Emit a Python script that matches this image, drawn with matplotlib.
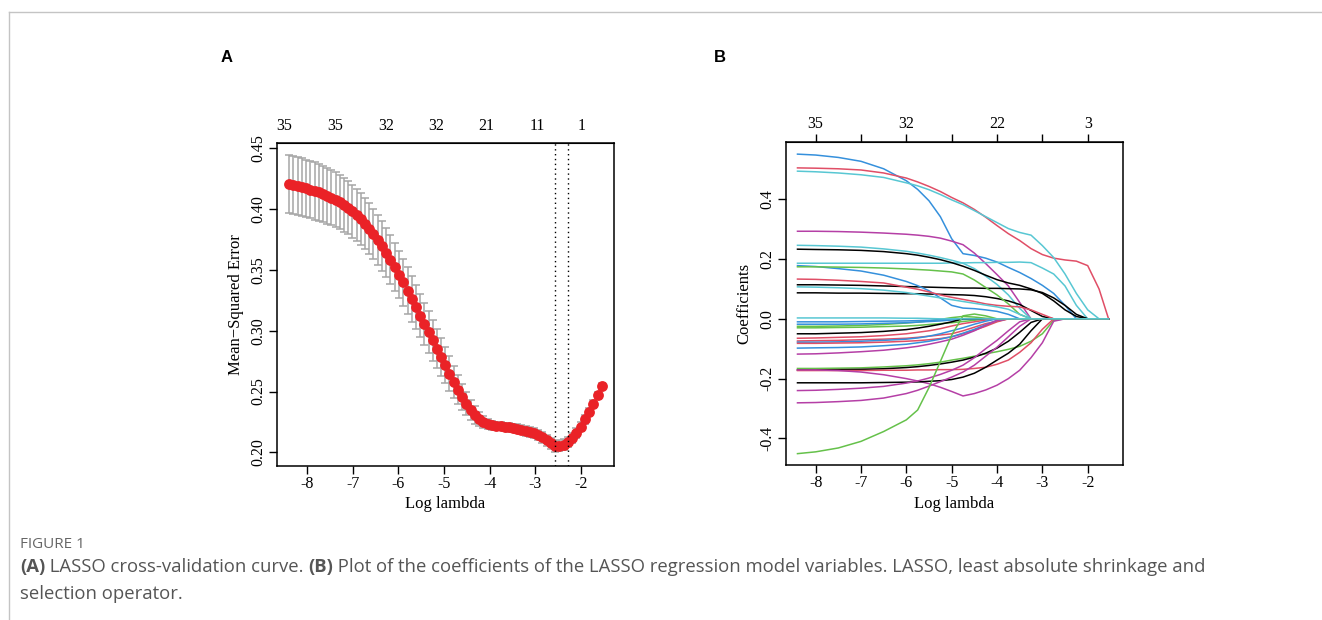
import matplotlib
matplotlib.use('Agg')
import matplotlib.pyplot as plt
from matplotlib.lines import Line2D

plt.rcParams['axes.unicode_minus'] = False
plt.rcParams['font.family'] = ['Liberation Serif', 'DejaVu Serif']

# ---- panel A: cross-validation curve ----
log_lambda = [-8.40, -8.31, -8.21, -8.12, -8.03, -7.94, -7.84, -7.75, -7.66, -7.57,
              -7.47, -7.38, -7.29, -7.20, -7.10, -7.01, -6.92, -6.82, -6.73, -6.64,
              -6.55, -6.45, -6.36, -6.27, -6.18, -6.08, -5.99, -5.90, -5.80, -5.71,
              -5.62, -5.53, -5.43, -5.34, -5.25, -5.16, -5.06, -4.97, -4.88, -4.78,
              -4.69, -4.60, -4.51, -4.41, -4.32, -4.23, -4.14, -4.04, -3.95, -3.86,
              -3.76, -3.67, -3.58, -3.49, -3.39, -3.30, -3.21, -3.12, -3.02, -2.93,
              -2.84, -2.75, -2.65, -2.56, -2.47, -2.37, -2.28, -2.19, -2.10, -2.00,
              -1.91, -1.82, -1.73, -1.63, -1.54]
cv_mse = [0.4205, 0.4197, 0.4189, 0.4180, 0.4170, 0.4160, 0.4149, 0.4137, 0.4124, 0.4110,
          0.4095, 0.4078, 0.4059, 0.4037, 0.4012, 0.3984, 0.3953, 0.3918, 0.3880, 0.3839,
          0.3794, 0.3746, 0.3695, 0.3641, 0.3584, 0.3524, 0.3462, 0.3397, 0.3330, 0.3262,
          0.3193, 0.3125, 0.3056, 0.2988, 0.2920, 0.2852, 0.2783, 0.2715, 0.2648, 0.2580,
          0.2516, 0.2456, 0.2401, 0.2350, 0.2307, 0.2275, 0.2250, 0.2232, 0.2222, 0.2217,
          0.2214, 0.2210, 0.2205, 0.2200, 0.2194, 0.2186, 0.2177, 0.2168, 0.2157, 0.2143,
          0.2125, 0.2100, 0.2073, 0.2048, 0.2055, 0.2062, 0.2085, 0.2118, 0.2160, 0.2210,
          0.2270, 0.2334, 0.2400, 0.2470, 0.2545]
cv_se = [0.0240, 0.0240, 0.0240, 0.0238, 0.0237, 0.0236, 0.0235, 0.0234, 0.0232, 0.0230,
         0.0228, 0.0226, 0.0224, 0.0222, 0.0220, 0.0218, 0.0216, 0.0214, 0.0212, 0.0210,
         0.0208, 0.0206, 0.0204, 0.0202, 0.0200, 0.0198, 0.0196, 0.0193, 0.0190, 0.0187,
         0.0183, 0.0179, 0.0175, 0.0170, 0.0165, 0.0160, 0.0154, 0.0148, 0.0140, 0.0130,
         0.0120, 0.0108, 0.0095, 0.0082, 0.0070, 0.0058, 0.0048, 0.0040, 0.0035, 0.0032,
         0.0032, 0.0033, 0.0034, 0.0035, 0.0036, 0.0037, 0.0039, 0.0040, 0.0042, 0.0043,
         0.0045, 0.0046, 0.0047, 0.0047, 0.0046, 0.0045, 0.0044, 0.0042, 0.0040, 0.0038,
         0.0036, 0.0034, 0.0032, 0.0030, 0.0028]
lambda_min = -2.557
lambda_1se = -2.27
nz_pos_a = [-8.51, -7.39, -6.28, -5.18, -4.08, -2.95, -1.98]
nz_lab_a = ['35', '35', '32', '32', '21', '11', '1']

# ---- panel B: coefficient paths ----
path_x = [-8.4, -8.0, -7.5, -7.0, -6.5, -6.0, -5.75, -5.5, -5.25, -5.0, -4.75, -4.5,
          -4.25, -4.0, -3.75, -3.5, -3.25, -3.0, -2.75, -2.5, -2.25, -2.0, -1.75, -1.54]
c_blk, c_red, c_grn = '#000000', '#e04e66', '#65c14a'
c_blu, c_cyn, c_mag = '#3590dc', '#58c7d3', '#b53fa6'
coef_paths = [
    (c_blu, [0.551, 0.548, 0.540, 0.527, 0.502, 0.462, 0.433, 0.395, 0.342, 0.268, 0.218, 0.212,
             0.203, 0.190, 0.172, 0.155, 0.135, 0.112, 0.085, 0.045, 0.0]),
    (c_red, [0.505, 0.504, 0.502, 0.498, 0.488, 0.471, 0.458, 0.443, 0.426, 0.406, 0.388, 0.366,
             0.340, 0.312, 0.285, 0.262, 0.235, 0.215, 0.203, 0.197, 0.193, 0.178, 0.100, 0.0]),
    (c_cyn, [0.494, 0.492, 0.488, 0.482, 0.473, 0.455, 0.445, 0.432, 0.416, 0.398, 0.382, 0.362,
             0.342, 0.322, 0.302, 0.289, 0.280, 0.245, 0.205, 0.150, 0.085, 0.030, 0.0]),
    (c_mag, [0.293, 0.293, 0.292, 0.290, 0.287, 0.283, 0.280, 0.276, 0.270, 0.260, 0.248, 0.220,
             0.185, 0.148, 0.110, 0.055, 0.0]),
    (c_cyn, [0.246, 0.245, 0.243, 0.240, 0.234, 0.226, 0.220, 0.213, 0.205, 0.196, 0.186, 0.168,
             0.143, 0.115, 0.080, 0.035, 0.0]),
    (c_cyn, [0.186, 0.186, 0.186, 0.186, 0.186, 0.186, 0.186, 0.186, 0.186, 0.187, 0.187, 0.188,
             0.188, 0.189, 0.189, 0.190, 0.188, 0.170, 0.150, 0.110, 0.045, 0.0]),
    (c_blk, [0.233, 0.232, 0.231, 0.229, 0.225, 0.218, 0.213, 0.206, 0.198, 0.188, 0.176, 0.162,
             0.146, 0.131, 0.120, 0.112, 0.100, 0.085, 0.060, 0.030, 0.008, 0.0]),
    (c_blk, [0.114, 0.114, 0.113, 0.112, 0.110, 0.108, 0.107, 0.106, 0.105, 0.104, 0.103, 0.103,
             0.102, 0.102, 0.101, 0.100, 0.097, 0.088, 0.070, 0.045, 0.015, 0.0]),
    (c_blk, [0.087, 0.087, 0.086, 0.086, 0.085, 0.084, 0.084, 0.083, 0.082, 0.081, 0.080, 0.078,
             0.074, 0.068, 0.060, 0.048, 0.028, 0.008, 0.0]),
    (c_blu, [0.178, 0.175, 0.168, 0.160, 0.146, 0.125, 0.111, 0.094, 0.070, 0.045, 0.036, 0.034,
             0.030, 0.025, 0.015, 0.0]),
    (c_grn, [0.174, 0.174, 0.173, 0.172, 0.170, 0.167, 0.165, 0.163, 0.160, 0.157, 0.150, 0.130,
             0.105, 0.080, 0.050, 0.015, 0.0]),
    (c_red, [0.133, 0.132, 0.129, 0.125, 0.120, 0.106, 0.099, 0.090, 0.080, 0.072, 0.065, 0.058,
             0.050, 0.045, 0.042, 0.040, 0.030, 0.015, 0.0]),
    (c_cyn, [0.107, 0.106, 0.104, 0.101, 0.096, 0.088, 0.082, 0.076, 0.070, 0.064, 0.058, 0.052,
             0.046, 0.040, 0.032, 0.015, 0.0]),
    (c_grn, [-0.025, -0.025, -0.024, -0.022, -0.019, -0.014, -0.011, -0.007, -0.002, 0.004, 0.008,
             0.006, 0.002, 0.0]),
    (c_blu, [-0.010, -0.010, -0.010, -0.009, -0.008, -0.007, -0.006, -0.005, -0.003, -0.001, 0.0]),
    (c_blu, [-0.018, -0.018, -0.018, -0.017, -0.015, -0.013, -0.011, -0.009, -0.007, -0.004,
             -0.002, 0.0]),
    (c_grn, [-0.030, -0.030, -0.029, -0.028, -0.026, -0.024, -0.022, -0.019, -0.016, -0.013,
             -0.009, -0.005, 0.0]),
    (c_blk, [-0.050, -0.050, -0.048, -0.046, -0.042, -0.036, -0.031, -0.025, -0.018, -0.010, 0.0]),
    (c_red, [-0.065, -0.064, -0.062, -0.060, -0.056, -0.050, -0.045, -0.040, -0.033, -0.024,
             -0.016, -0.010, -0.004, 0.0]),
    (c_red, [-0.074, -0.073, -0.072, -0.070, -0.068, -0.065, -0.062, -0.058, -0.054, -0.050,
             -0.040, -0.028, -0.016, -0.008, 0.0]),
    (c_blu, [-0.078, -0.078, -0.077, -0.075, -0.072, -0.068, -0.064, -0.058, -0.050, -0.040,
             -0.030, -0.018, -0.008, 0.0]),
    (c_red, [-0.082, -0.082, -0.081, -0.080, -0.078, -0.075, -0.073, -0.070, -0.066, -0.060,
             -0.050, -0.038, -0.025, -0.010, 0.0]),
    (c_blu, [-0.098, -0.097, -0.096, -0.094, -0.090, -0.085, -0.080, -0.075, -0.068, -0.060,
             -0.048, -0.035, -0.020, -0.005, 0.0]),
    (c_mag, [-0.118, -0.117, -0.114, -0.110, -0.105, -0.097, -0.092, -0.085, -0.077, -0.068,
             -0.055, -0.040, -0.022, -0.005, 0.0]),
    (c_grn, [-0.166, -0.166, -0.165, -0.164, -0.161, -0.157, -0.154, -0.150, -0.145, -0.138,
             -0.132, -0.125, -0.117, -0.110, -0.102, -0.092, -0.075, -0.050, -0.005, 0.0]),
    (c_blk, [-0.171, -0.171, -0.170, -0.169, -0.167, -0.163, -0.160, -0.156, -0.151, -0.145,
             -0.138, -0.128, -0.115, -0.098, -0.075, -0.045, -0.012, 0.0]),
    (c_red, [-0.173, -0.173, -0.173, -0.173, -0.172, -0.172, -0.171, -0.171, -0.170, -0.170,
             -0.169, -0.166, -0.162, -0.152, -0.138, -0.112, -0.080, -0.035, 0.0]),
    (c_mag, [-0.171, -0.171, -0.173, -0.178, -0.187, -0.200, -0.208, -0.217, -0.229, -0.243,
             -0.258, -0.250, -0.238, -0.222, -0.200, -0.172, -0.130, -0.080, -0.008, 0.0]),
    (c_blk, [-0.214, -0.214, -0.214, -0.214, -0.213, -0.212, -0.211, -0.209, -0.207, -0.203,
             -0.195, -0.182, -0.162, -0.138, -0.115, -0.085, -0.040, 0.0]),
    (c_mag, [-0.240, -0.239, -0.236, -0.232, -0.226, -0.215, -0.208, -0.198, -0.186, -0.172,
             -0.155, -0.130, -0.100, -0.072, -0.040, -0.010, 0.0]),
    (c_mag, [-0.281, -0.280, -0.277, -0.273, -0.265, -0.250, -0.239, -0.225, -0.210, -0.195,
             -0.178, -0.155, -0.125, -0.095, -0.060, -0.025, 0.0]),
    (c_grn, [-0.451, -0.445, -0.432, -0.410, -0.377, -0.338, -0.305, -0.230, -0.143, -0.055,
             0.010, 0.016, 0.010, 0.0]),
    (c_cyn, [0.003, 0.003, 0.003, 0.003, 0.003, 0.002, 0.002, 0.001, 0.0]),
]
nz_pos_b = [-8, -7, -6, -5, -4, -3, -2]
nz_lab_b = ['35', '', '32', '', '22', '', '3']

W, H = 1322, 620
fig = plt.figure(figsize=(W / 100, H / 100), dpi=100)

tick_fs = 11.5


def style_axes(ax):
    for s in ax.spines.values():
        s.set_linewidth(1.1)
    ax.tick_params(direction='out', length=5.5, width=1.0, labelsize=tick_fs, pad=2)
    for t in ax.get_yticklabels():
        t.set_rotation(90)
        t.set_va('center')


# panel A
axa = fig.add_axes([277 / W, 1 - 465.7 / H, 337 / W, 323 / H])
axa.errorbar(log_lambda, cv_mse, yerr=cv_se, fmt='none', ecolor='#a6a6a6',
             elinewidth=1.1, capsize=2.8, capthick=1.1, zorder=1)
axa.plot(log_lambda, cv_mse, 'o', color='#ea2227', markersize=7.8,
         markeredgewidth=0, zorder=2)
axa.axvline(lambda_min, color='black', linestyle=(0, (1, 2.5)), linewidth=1.0)
axa.axvline(lambda_1se, color='black', linestyle=(0, (1, 2.5)), linewidth=1.0)
axa.set_xlim(-8.665, -1.27)
axa.set_ylim(0.189, 0.4546)
axa.set_xticks([-8, -7, -6, -5, -4, -3, -2])
axa.set_xticklabels(['-8', '-7', '-6', '-5', '-4', '-3', '-2'])
axa.set_yticks([0.20, 0.25, 0.30, 0.35, 0.40, 0.45])
axa.set_yticklabels(['0.20', '0.25', '0.30', '0.35', '0.40', '0.45'])
style_axes(axa)
axa.set_xlabel('Log lambda', fontsize=12, labelpad=3)
axa.set_ylabel('Mean\u2212Squared Error', fontsize=12, labelpad=5)
topa = axa.secondary_xaxis('top')
topa.set_xticks(nz_pos_a)
topa.set_xticklabels(nz_lab_a)
topa.tick_params(length=0, labelsize=tick_fs, pad=6)

# panel B
axb = fig.add_axes([785.7 / W, 1 - 465 / H, 337.6 / W, 322.7 / H])
for col, vals in coef_paths:
    yv = vals + [0.0] * (len(path_x) - len(vals))
    axb.plot(path_x, yv, color=col, linewidth=1.1)
axb.set_xlim(-8.66, -1.215)
axb.set_ylim(-0.489, 0.5906)
axb.set_xticks([-8, -7, -6, -5, -4, -3, -2])
axb.set_xticklabels(['-8', '-7', '-6', '-5', '-4', '-3', '-2'])
axb.set_yticks([-0.4, -0.2, 0.0, 0.2, 0.4])
axb.set_yticklabels(['-0.4', '-0.2', '0.0', '0.2', '0.4'])
style_axes(axb)
axb.set_xlabel('Log lambda', fontsize=12, labelpad=3)
axb.set_ylabel('Coefficients', fontsize=12, labelpad=5)
topb = axb.secondary_xaxis('top')
topb.set_xticks(nz_pos_b)
topb.set_xticklabels(nz_lab_b)
topb.tick_params(direction='out', length=5.5, width=1.0, labelsize=tick_fs, pad=2)

# panel letters
fig.text(227 / W, 1 - 57 / H, 'A', family='Liberation Sans', weight='bold',
         fontsize=12, ha='center', va='center')
fig.text(720 / W, 1 - 57 / H, 'B', family='Liberation Sans', weight='bold',
         fontsize=12, ha='center', va='center')

# page frame lines
fig.add_artist(Line2D([9.3 / W, 1], [1 - 12.3 / H, 1 - 12.3 / H], color='#c4c4c4', lw=1.0))
fig.add_artist(Line2D([9.3 / W, 9.3 / W], [0, 1 - 12.3 / H], color='#c4c4c4', lw=1.0))

# caption
cap_col = '#555555'
fig.text(20 / W, 1 - 544 / H, 'FIGURE 1', family='Open Sans', fontsize=11,
         color='#666666', va='center')

renderer = fig.canvas.get_renderer()


def put_runs(x_px, y_px, runs):
    x = x_px
    for txt, bold in runs:
        t = fig.text(x / W, 1 - y_px / H, txt, family='Open Sans', fontsize=13.3,
                     color=cap_col, weight='bold' if bold else 'normal', va='center')
        bb = t.get_window_extent(renderer=renderer)
        x += bb.width


put_runs(20, 567, [('(A)', True), (' LASSO cross-validation curve. ', False), ('(B)', True),
                   (' Plot of the coefficients of the LASSO regression model variables. '
                    'LASSO, least absolute shrinkage and', False)])
put_runs(20, 594, [('selection operator.', False)])

fig.savefig('out.png', dpi=100)
